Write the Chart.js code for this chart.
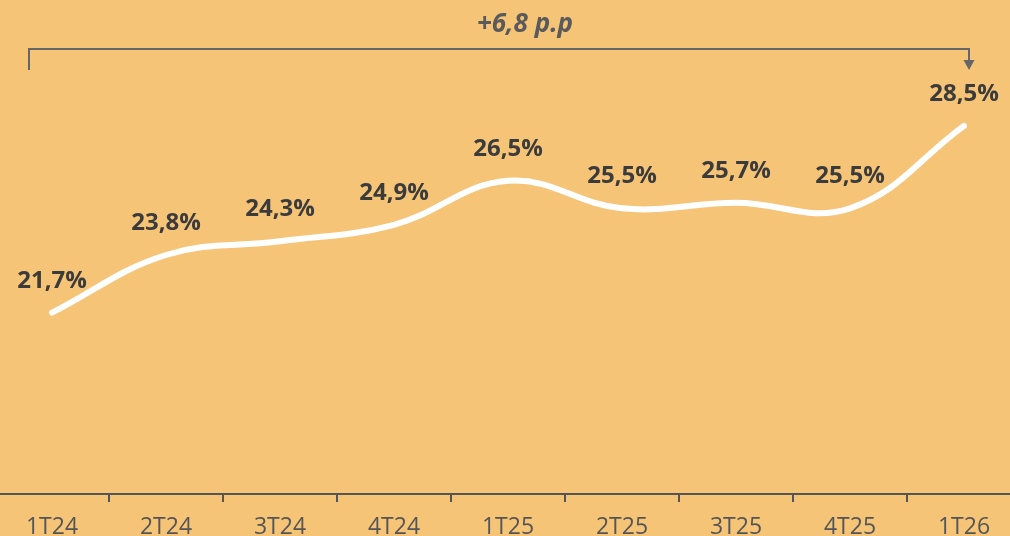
<!DOCTYPE html>
<html>
<head>
<meta charset="utf-8">
<script src="https://cdn.jsdelivr.net/npm/chart.js@4.4.1/dist/chart.umd.min.js"></script>
<style>
html, body { margin:0; padding:0; background:#F6C477; overflow:hidden; }
#wrap { position:absolute; left:-5px; top:0; width:1026px; height:536px; }
</style>
</head>
<body>
<div id="wrap"><canvas id="chart"></canvas></div>
<script>

/* DATA */

const quarters = ["1T24","2T24","3T24","4T24","1T25","2T25","3T25","4T25","1T26"];

const shareValues = [21.7, 23.8, 24.3, 24.9, 26.5, 25.5, 25.7, 25.5, 28.5];

const deltaLabel = "+6,8 p.p";

/* LABELS + BRACKET */

const labelPlugin = {
    id: "labelPlugin",
    afterDatasetsDraw(chart){

        const ctx = chart.ctx;
        const pts = chart.getDatasetMeta(0).data;

        ctx.save();

        // valores acima dos pontos
        ctx.fillStyle = "#3b3b3b";
        ctx.font = "bold 24px 'Open Sans'";
        ctx.textAlign = "center";
        ctx.textBaseline = "middle";
        pts.forEach((p, i) => {
            const txt = shareValues[i].toFixed(1).replace(".", ",") + "%";
            ctx.fillText(txt, p.x, p.y - 32);
        });

        // colchete de variação
        const first = pts[0];
        const last = pts[pts.length - 1];
        const x1 = first.x - 23;
        const x2 = last.x + 5;
        ctx.strokeStyle = "#666";
        ctx.lineWidth = 2;
        ctx.beginPath();
        ctx.moveTo(x1, 70);
        ctx.lineTo(x1, 49);
        ctx.lineTo(x2, 49);
        ctx.lineTo(x2, 62);
        ctx.stroke();
        ctx.fillStyle = "#666";
        ctx.beginPath();
        ctx.moveTo(x2 - 5.5, 60);
        ctx.lineTo(x2 + 5.5, 60);
        ctx.lineTo(x2, 70);
        ctx.closePath();
        ctx.fill();

        ctx.fillStyle = "#5a5a5a";
        ctx.font = "italic bold 26px 'Open Sans'";
        ctx.fillText(deltaLabel, pts[4].x + 17, 25);

        ctx.restore();
    }
};

new Chart(document.getElementById("chart"), {
    type: "line",
    data: {
        labels: quarters,
        datasets: [{
            data: shareValues,
            borderColor: "#ffffff",
            borderWidth: 6,
            borderCapStyle: "round",
            tension: 0.4,
            pointRadius: 0,
            fill: false
        }]
    },
    options: {
        responsive: true,
        maintainAspectRatio: false,
        animation: false,
        layout: { padding: { top: 27, left: 0, right: 0, bottom: 0 } },
        plugins: {
            legend: { display: false },
            tooltip: { enabled: false }
        },
        scales: {
            x: {
                offset: true,
                grid: {
                    offset: true,
                    drawOnChartArea: false,
                    drawTicks: true,
                    tickLength: 8,
                    color: "#555",
                    lineWidth: 2
                },
                border: { display: true, color: "#555", width: 2 },
                ticks: {
                    color: "#555",
                    font: { family: "'Open Sans'", size: 23 },
                    padding: 12,
                    maxRotation: 0,
                    autoSkip: false
                },
                afterFit(scale){
                    scale.height = 42;
                }
            },
            y: {
                display: false,
                min: 15.1,
                max: 32.1
            }
        }
    },
    plugins: [labelPlugin]
});

</script>
</body>
</html>
